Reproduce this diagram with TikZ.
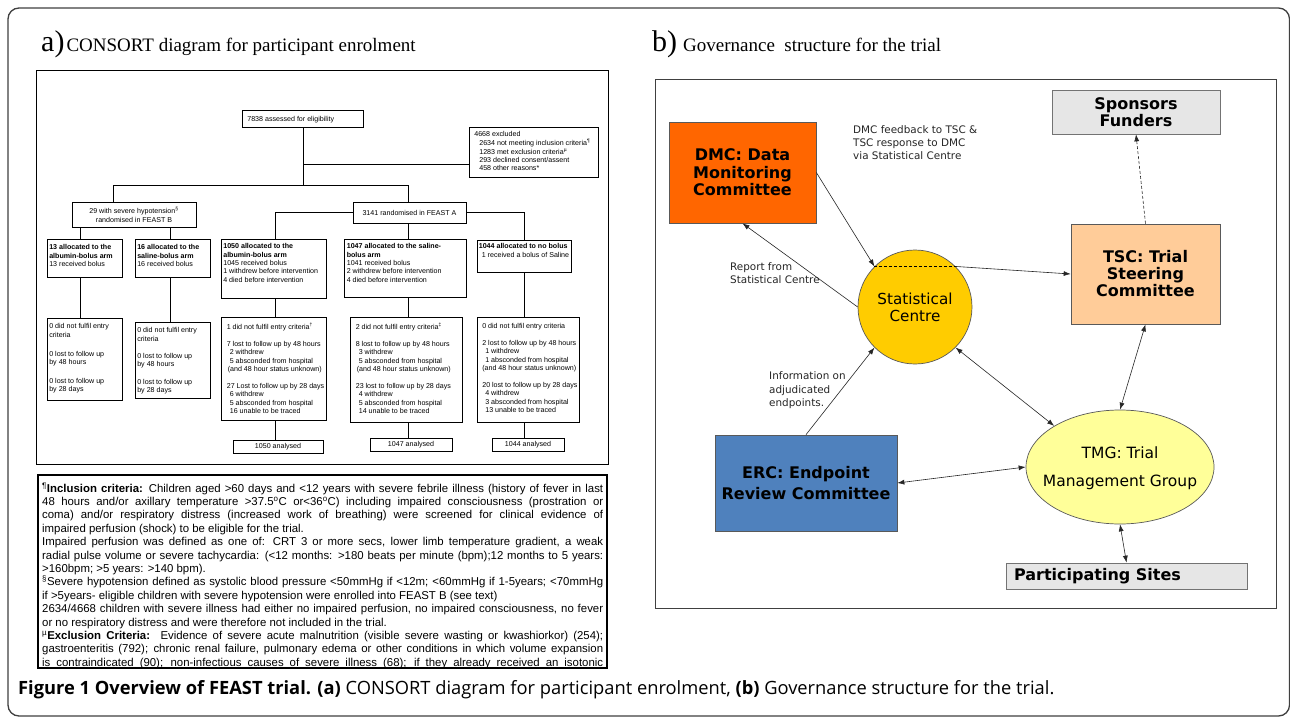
\documentclass[tikz,border=0pt]{standalone}
\usepackage{fontspec}
\setmainfont{Liberation Sans}
\newfontfamily\tnr{Liberation Serif}
\newfontfamily\gov{DejaVu Sans}
\newfontfamily\capf{Open Sans}
\usetikzlibrary{arrows.meta,shapes.geometric}
\definecolor{dmcor}{HTML}{FF6600}
\definecolor{tscor}{HTML}{FFCC99}
\definecolor{statc}{HTML}{FFCC00}
\definecolor{tmgc}{HTML}{FFFF99}
\definecolor{ercc}{HTML}{4F81BD}
\definecolor{greyc}{HTML}{E6E6E6}
\newcommand\tb[5]{\parbox[c][#2pt][t]{#1pt}{\vspace*{#3pt}\hspace*{#4pt}\begin{tabular}[t]{@{}l@{}}#5\end{tabular}}}
\newcommand\jl[1]{\hbox to \linewidth{#1}}
\newcommand\nl[1]{\hbox{#1}}
\newcommand\ind{\hspace*{3pt}}
\begin{document}
\begin{tikzpicture}[x=1pt,y=-1pt,
  cl/.style={line width=0.6pt, draw=black},
  cbox/.style={draw=black, line width=0.6pt, inner sep=0pt, anchor=north west, font=\fontsize{7.1}{8.4}\selectfont},
  ccbox/.style={draw=black, line width=0.6pt, inner sep=0pt, align=center, font=\fontsize{7.1}{8.6}\selectfont},
  gbox/.style={draw=black!65, line width=0.7pt, inner sep=0pt, align=center},
  glab/.style={inner sep=0pt, anchor=north west, align=left, text=black!85},
  arr/.style={line width=0.6pt, draw=black!85, -{Latex[length=7pt,width=5pt]}},
  darr/.style={line width=0.6pt, draw=black!85, {Latex[length=7pt,width=5pt]}-{Latex[length=7pt,width=5pt]}},
  dsh/.style={dash pattern=on 3pt off 2pt}]
\useasboundingbox (0,0) rectangle (1290,717);
\fill[white] (0,0) rectangle (1290,717);
% outer frame
\draw[line width=1.3pt, black!75, rounded corners=11pt] (8,8) rectangle (1289.5,716);

% titles
\node[anchor=base west, inner sep=0pt] (ta) at (41,52) {{\tnr\fontsize{30}{30}\selectfont a)}\hspace{2pt}{\tnr\fontsize{19}{22}\selectfont CONSORT diagram for participant enrolment}};
\node[anchor=base west, inner sep=0pt] (tb) at (652,52) {{\tnr\fontsize{30}{30}\selectfont b)}\hspace{6pt}{\tnr\fontsize{19}{22}\selectfont Governance\ \ structure for the trial}};

% ---------------- CONSORT ----------------
\draw[line width=0.9pt] (36,70) rectangle (608,464);

\node[cbox] (asess) at (242,110) {\tb{121}{17}{5.1}{5}{7838 assessed for eligibility}};
\node[cbox] (excl) at (469,127) {\tb{129}{50}{3.6}{5}{4668 excluded\\ \hspace*{5pt}2634 not meeting inclusion criteria\textsuperscript{¶}\\ \hspace*{5pt}1283 met exclusion criteria\textsuperscript{µ}\\ \hspace*{5pt}293 declined consent/assent\\ \hspace*{5pt}458 other reasons*}};
\node[ccbox, minimum width=124, minimum height=25] (fb) at (134,214.5) {29 with severe hypotension\textsuperscript{§}\\randomised in FEAST B};
\node[ccbox, minimum width=113, minimum height=21] (fa) at (409.5,212.5) {3141 randomised in FEAST A};

\node[cbox] (b13) at (47,239) {\tb{75}{38}{4.6}{2}{\textbf{13 allocated to the}\\\textbf{albumin-bolus arm}\\13 received bolus}};
\node[cbox] (b16) at (135,239) {\tb{75}{38}{4.6}{2}{\textbf{16 allocated to the}\\\textbf{saline-bolus arm}\\16 received bolus}};
\node[cbox] (b1050) at (221,239) {\tb{105}{59}{3.6}{2}{\textbf{1050 allocated to the}\\\textbf{albumin-bolus arm}\\1045 received bolus\\1 withdrew before intervention\\4 died before intervention}};
\node[cbox] (b1047) at (344,239) {\tb{122}{58}{3.6}{2.5}{\textbf{1047 allocated to the saline-}\\\textbf{bolus arm}\\1041 received bolus\\2 withdrew before intervention\\4 died before intervention}};
\node[cbox] (b1044) at (477,240) {\tb{94}{32}{2.6}{1.5}{\textbf{1044 allocated to no bolus}\\ \ind 1 received a bolus of Saline}};

\node[cbox] (l13) at (47,318) {\tb{75}{82}{4.6}{2}{0 did not fulfil entry\\criteria\\[10.5pt]0 lost to follow up\\by 48 hours\\[10.5pt]0 lost to follow up\\by 28 days}};
\node[cbox] (l16) at (135,322) {\tb{75}{76}{4.6}{2}{0 did not fulfil entry\\criteria\\[9pt]0 lost to follow up\\by 48 hours\\[9pt]0 lost to follow up\\by 28 days}};
\node[cbox] (l1050) at (221,317) {\tb{105}{103}{5.6}{5.5}{1 did not fulfil entry criteria\textsuperscript{†}\\ \\7 lost to follow up by 48 hours\\ \ind 2 withdrew\\ \ind 5 absconded from hospital\\ \hspace*{1pt}(and 48 hour status unknown)\\ \\27 Lost to follow up by 28 days\\ \ind 6 withdrew\\ \ind 5 absconded from hospital\\ \ind 16 unable to be traced}};
\node[cbox] (l1047) at (350,317) {\tb{112}{105}{5.6}{5.5}{2 did not fulfil entry criteria\textsuperscript{‡}\\ \\8 lost to follow up by 48 hours\\ \ind 3 withdrew\\ \ind 5 absconded from hospital\\ \hspace*{1pt}(and 48 hour status unknown)\\ \\23 lost to follow up by 28 days\\ \ind 4 withdrew\\ \ind 5 absconded from hospital\\ \ind 14 unable to be traced}};
\node[cbox] (l1044) at (477,317) {\tb{102}{105}{5.6}{5}{0 did not fulfil entry criteria\\ \\2 lost to follow up by 48 hours\\ \ind 1 withdrew\\ \ind 1 absconded from hospital\\(and 48 hour status unknown)\\ \\20 lost to follow up by 28 days\\ \ind 4 withdrew\\ \ind 3 absconded from hospital\\ \ind 13 unable to be traced}};

\node[ccbox, minimum width=90, minimum height=13] (a1050) at (278,446.5) {1050 analysed};
\node[ccbox, minimum width=82, minimum height=13] (a1047) at (411,444.5) {1047 analysed};
\node[ccbox, minimum width=72, minimum height=13] (a1044) at (528,444.5) {1044 analysed};

\coordinate (j0) at (303,185);
\coordinate (jE) at (303,164);
\coordinate (jB) at (113,185);
\coordinate (jA) at (408,185);
\coordinate (x13) at (80,0);
\coordinate (x16) at (170,0);
\coordinate (x50) at (275,0);
\coordinate (x47) at (408,0);
\coordinate (x44) at (524,0);
\draw[cl] (asess.south -| j0) -- (j0);
\draw[cl] (jE) -- (jE -| excl.west);
\draw[cl] (jB) -- (jA);
\draw[cl] (jB) -- (jB |- fb.north);
\draw[cl] (jA) -- (jA |- fa.north);
\draw[cl] (fb.south -| x13) -- (b13.north -| x13);
\draw[cl] (fb.south -| x16) -- (b16.north -| x16);
\draw[cl] (fa.west) -- (fa.west -| x50) -- (b1050.north -| x50);
\draw[cl] (fa.south -| x47) -- (b1047.north -| x47);
\draw[cl] (fa.east) -- (fa.east -| x44) -- (b1044.north -| x44);
\draw[cl] (b13.south -| x13) -- (l13.north -| x13);
\draw[cl] (b16.south -| x16) -- (l16.north -| x16);
\draw[cl] (b1050.south -| x50) -- (l1050.north -| x50);
\draw[cl] (b1047.south -| x47) -- (l1047.north -| x47);
\draw[cl] (b1044.south -| x44) -- (l1044.north -| x44);
\draw[cl] (l1050.south -| x50) -- (a1050.north -| x50);
\draw[cl] (l1047.south -| x47) -- (a1047.north -| x47);
\draw[cl] (l1044.south -| x44) -- (a1044.north -| x44);

% footnote box
\begin{scope}
\clip (38,475) rectangle (607,668);
\node[anchor=base west, inner sep=0pt] (fn) at (42,492) {\parbox[t]{561pt}{\fontsize{11.4}{13.4}\selectfont
\jl{\textsuperscript{¶}\textbf{Inclusion criteria:} Children aged >60 days and <12 years with severe febrile illness (history of fever in last}
\jl{48 hours and/or axillary temperature >37.5\textsuperscript{o}C or<36\textsuperscript{o}C) including impaired consciousness (prostration or}
\jl{coma) and/or respiratory distress (increased work of breathing) were screened for clinical evidence of}
\nl{impaired perfusion (shock) to be eligible for the trial.}
\jl{Impaired perfusion was defined as one of: CRT 3 or more secs, lower limb temperature gradient, a weak}
\jl{radial pulse volume or severe tachycardia: (<12 months: >180 beats per minute (bpm);12 months to 5 years:}
\nl{>160bpm; >5 years: >140 bpm).}
\jl{\textsuperscript{§}Severe hypotension defined as systolic blood pressure <50mmHg if <12m; <60mmHg if 1-5years; <70mmHg}
\nl{if >5years- eligible children with severe hypotension were enrolled into FEAST B (see text)}
\jl{2634/4668 children with severe illness had either no impaired perfusion, no impaired consciousness, no fever}
\nl{or no respiratory distress and were therefore not included in the trial.}
\jl{\textsuperscript{µ}\textbf{Exclusion Criteria:}\ \ Evidence of severe acute malnutrition (visible severe wasting or kwashiorkor) (254);}
\jl{gastroenteritis (792); chronic renal failure, pulmonary edema or other conditions in which volume expansion}
\jl{is contraindicated (90); non-infectious causes of severe illness (68); if they already received an isotonic}}};
\end{scope}
\draw[line width=1.1pt] (38,475) rectangle (607,668);

% caption
\node[anchor=base west, inner sep=0pt] (cap) at (18,694) {\capf\fontsize{18.3}{20}\selectfont\textbf{Figure 1 Overview of FEAST trial. (a)} CONSORT diagram for participant enrolment, \textbf{(b)} Governance structure for the trial.};

% ---------------- Governance ----------------
\draw[line width=1pt, black!75] (655,79) rectangle (1276,608);

\node[gbox, fill=dmcor, minimum width=147, minimum height=101, font=\gov\bfseries\fontsize{16}{17.5}\selectfont] (dmc) at (742.5,172.5) {DMC: Data\\Monitoring\\Committee};
\node[gbox, fill=greyc, draw=black!55, minimum width=168, minimum height=44, font=\gov\bfseries\fontsize{16}{16.5}\selectfont] (spon) at (1136,112) {Sponsors\\Funders};
\node[gbox, fill=tscor, minimum width=149, minimum height=100, font=\gov\bfseries\fontsize{16}{17}\selectfont] (tsc) at (1145.5,274) {TSC: Trial\\Steering\\Committee};
\node[gbox, circle, fill=statc, minimum size=114, font=\gov\fontsize{15.2}{17}\selectfont] (stat) at (915,307) {Statistical\\Centre};
\node[gbox, fill=ercc, minimum width=182, minimum height=96, font=\gov\bfseries\fontsize{16}{21}\selectfont] (erc) at (806,483) {ERC: Endpoint\\Review Committee};
\node[gbox, ellipse, fill=tmgc, minimum width=188, minimum height=114, font=\gov\fontsize{15.5}{28}\selectfont] (tmg) at (1120,467) {\makebox[0pt]{\begin{tabular}{@{}c@{}}TMG: Trial\\Management Group\end{tabular}}};
\node[gbox, fill=greyc, draw=black!55, minimum width=241, minimum height=26, font=\gov\bfseries\fontsize{16}{18}\selectfont] (part) at (1126.5,576) {\makebox[225pt][l]{Participating Sites}};

\node[glab, font=\gov\fontsize{10.4}{13}\selectfont] (l1) at (853,125.5) {DMC feedback to TSC \&\\TSC response to DMC\\via Statistical Centre};
\node[glab, font=\gov\fontsize{10.4}{13}\selectfont] (l2) at (730,262.5) {Report from\\Statistical Centre};
\node[glab, font=\gov\fontsize{10.4}{13.5}\selectfont] (l3) at (769,371.5) {Information on\\adjudicated\\endpoints.};

\draw[arr] (dmc.east) -- (stat.135);
\draw[arr] (stat.west) -- (dmc.south);
\draw[line width=0.6pt, dsh] (stat.135) -- (stat.45);
\draw[arr] (stat.45) -- (tsc.west);
\draw[arr, dsh] (tsc.north) -- (spon.south);
\draw[arr] (erc.north) -- (stat.225);
\draw[darr] (stat.-45) -- (tmg.148);
\draw[darr] (tsc.south) -- (tmg.north);
\draw[darr] (erc.east) -- (tmg.west);
\draw[darr] (tmg.south) -- (part.north);
\end{tikzpicture}
\end{document}
